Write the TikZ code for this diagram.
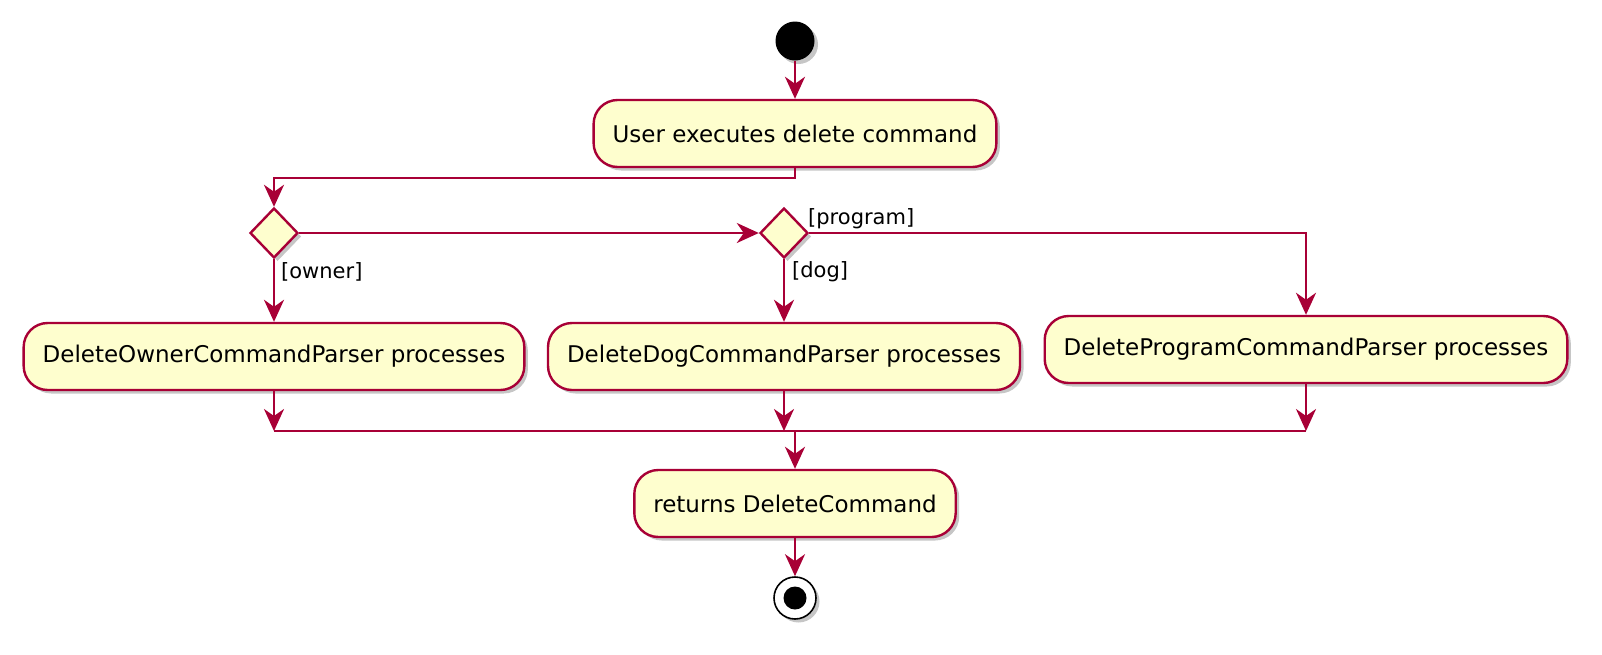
\documentclass[tikz,border=0pt]{standalone}
\usepackage{fontspec}
\setmainfont{DejaVu Sans}
\usetikzlibrary{arrows.meta,shapes.geometric,shadows,positioning,calc}
\definecolor{pumlred}{HTML}{A80036}
\definecolor{pumlfill}{HTML}{FEFECE}
\tikzset{
  shad/.style={drop shadow={shadow xshift=3.5pt,shadow yshift=-3.5pt,fill=black!50,opacity=.45}},
  actbox/.style={draw=pumlred,fill=pumlfill,line width=2.4pt,rounded corners=24pt,
    minimum height=67pt,inner xsep=19pt,font=\fontsize{23}{27}\selectfont,shad},
  decis/.style={diamond,draw=pumlred,fill=pumlfill,line width=2.4pt,minimum width=48pt,
    minimum height=50pt,inner sep=0pt,aspect=1,shad},
  arr/.style={draw=pumlred,line width=2.6pt,-{Stealth[length=22pt,width=20pt,inset=7pt]}},
  ln/.style={draw=pumlred,line width=2.6pt},
  lbl/.style={font=\fontsize{21}{24}\selectfont,inner sep=0pt},
}
\begin{document}
\begin{tikzpicture}[x=1pt,y=-1pt]
\useasboundingbox (0,0) rectangle (1602,654);
\node[circle,fill=black,minimum size=39pt,inner sep=0pt,shad] (start) at (795,41) {};
\node[actbox] (b1) at (795,133.5) {User executes delete command};
\node[decis] (d1) at (274,233) {};
\node[decis] (d2) at (784,233) {};
\node[actbox] (own) at (274,356.5) {DeleteOwnerCommandParser processes};
\node[actbox] (dog) at (784,356.5) {DeleteDogCommandParser processes};
\node[actbox] (prog) at (1306,349.5) {DeleteProgramCommandParser processes};
\node[actbox] (b4) at (795,503.5) {returns DeleteCommand};
\node[circle,draw=black,line width=1.6pt,fill=white,minimum size=42pt,inner sep=0pt,shad] (end) at (795,598) {};
\fill[black] (end.center) circle (11.5pt);
\coordinate (split) at (795,178);
\coordinate (mL) at (274,431);
\coordinate (mD) at (784,431);
\coordinate (mC) at (795,431);
\coordinate (mR) at (1306,431);
\draw[arr] (start) -- (b1);
\draw[arr] (b1.south) -- (split) -| (d1.north);
\draw[arr] (d1.east) -- (d2.west);
\draw[arr] (d2.east) -| (prog.north);
\draw[arr] (d1.south) -- (own.north);
\draw[arr] (d2.south) -- (dog.north);
\node[lbl,anchor=west] (lo) at (281,272) {[owner]};
\node[lbl,anchor=west] (ld) at (792,272) {[dog]};
\node[lbl,anchor=west] (lp) at (808,219) {[program]};
\draw[arr] (own.south) -- (mL);
\draw[arr] (dog.south) -- (mD);
\draw[arr] (prog.south) -- (mR);
\draw[ln] (mL) -- (mR);
\draw[arr] (mC) -- (b4.north);
\draw[arr] (b4.south) -- (end.north);
\end{tikzpicture}
\end{document}
